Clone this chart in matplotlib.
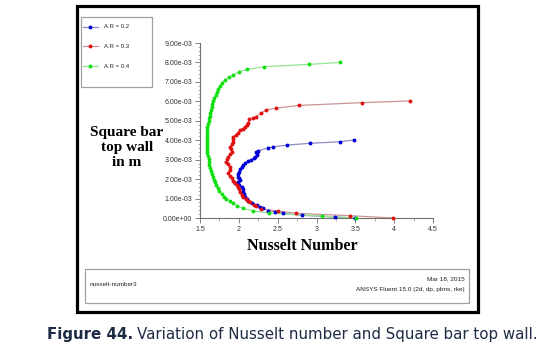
import matplotlib
matplotlib.use("Agg")
import matplotlib.pyplot as plt
from matplotlib.patches import Rectangle
from matplotlib.ticker import MultipleLocator, FuncFormatter

# ---- data (Nusselt number vs. wall position, y in units of 1e-3 m) ----
ar02_x = [3.49, 3.24, 2.81, 2.57, 2.46, 2.38, 2.31, 2.27, 2.23, 2.17, 2.12, 2.10, 2.08, 2.07,
          2.06, 2.05, 2.04, 2.00, 1.95, 1.99, 2.01, 2.00, 1.99, 1.99, 2.005, 2.02, 2.04, 2.06,
          2.08, 2.12, 2.16, 2.19, 2.21, 2.23, 2.24, 2.22, 2.25, 2.38, 2.44, 2.62, 2.91, 3.30, 3.48]
ar02_y = [0.00, 0.05, 0.14, 0.24, 0.33, 0.38, 0.50, 0.58, 0.67, 0.78, 0.89, 0.98, 1.09, 1.22,
          1.35, 1.48, 1.61, 1.68, 1.78, 1.85, 1.95, 2.05, 2.12, 2.25, 2.38, 2.50, 2.64, 2.72,
          2.81, 2.93, 3.00, 3.07, 3.15, 3.24, 3.32, 3.41, 3.46, 3.61, 3.66, 3.75, 3.84, 3.92, 4.01]

ar03_x = [3.98, 3.43, 2.74, 2.51, 2.29, 2.22, 2.19, 2.15, 2.12, 2.09, 2.06, 2.04, 2.01, 2.00,
          1.99, 1.97, 1.95, 1.92, 1.91, 1.88, 1.86, 1.88, 1.89, 1.86, 1.84, 1.85, 1.86, 1.89,
          1.91, 1.90, 1.89, 1.91, 1.93, 1.92, 1.93, 1.96, 1.99, 2.01, 2.05, 2.08, 2.10, 2.12,
          2.13, 2.18, 2.22, 2.29, 2.35, 2.48, 2.77, 3.58, 4.20]
ar03_y = [0.00, 0.12, 0.24, 0.36, 0.46, 0.60, 0.67, 0.80, 0.89, 1.00, 1.09, 1.20, 1.35, 1.48,
          1.61, 1.70, 1.78, 1.90, 2.04, 2.15, 2.30, 2.45, 2.64, 2.76, 2.89, 3.02, 3.15, 3.28,
          3.41, 3.54, 3.66, 3.80, 3.92, 4.05, 4.18, 4.28, 4.35, 4.52, 4.60, 4.69, 4.80, 4.90,
          5.07, 5.15, 5.21, 5.41, 5.55, 5.65, 5.79, 5.93, 6.02]

ar04_x = [3.51, 3.07, 2.39, 2.18, 2.05, 1.98, 1.92, 1.886, 1.84, 1.81, 1.78, 1.75, 1.73, 1.71,
          1.69, 1.68, 1.665, 1.65, 1.64, 1.63, 1.62, 1.615, 1.61, 1.60, 1.595, 1.59, 1.588,
          1.586, 1.585, 1.585, 1.586, 1.588, 1.59, 1.595, 1.60, 1.61, 1.615, 1.625, 1.632,
          1.64, 1.65, 1.66, 1.67, 1.685, 1.70, 1.715, 1.735, 1.755, 1.78, 1.82, 1.87, 1.93,
          2.005, 2.11, 2.33, 2.90, 3.30]
ar04_y = [0.00, 0.10, 0.25, 0.37, 0.50, 0.62, 0.75, 0.87, 0.98, 1.10, 1.25, 1.40, 1.55, 1.70,
          1.85, 1.98, 2.12, 2.27, 2.42, 2.57, 2.72, 2.87, 3.02, 3.17, 3.32, 3.47, 3.62,
          3.77, 3.92, 4.07, 4.22, 4.37, 4.52, 4.67, 4.82, 4.97, 5.12, 5.27, 5.42,
          5.57, 5.72, 5.87, 6.02, 6.17, 6.32, 6.47, 6.62, 6.78, 6.95, 7.09, 7.23, 7.37,
          7.52, 7.64, 7.78, 7.90, 8.00]

series = [
    ("A.R = 0.2", ar02_x, ar02_y, "#0000d8", "#8c8cc8"),
    ("A.R = 0.3", ar03_x, ar03_y, "#e01010", "#cc9494"),
    ("A.R = 0.4", ar04_x, ar04_y, "#10e010", "#94e494"),
]

x_ticks = [1.5, 2, 2.5, 3, 3.5, 4, 4.5]
y_ticks = [0, 1, 2, 3, 4, 5, 6, 7, 8, 9]

W, H = 552, 351
fig = plt.figure(figsize=(W / 100, H / 100), dpi=100)
fig.patch.set_facecolor("white")

def fx(px):
    return px / W

def fy(py):
    return 1 - py / H

# outer black frame
fig.patches.append(Rectangle((fx(77), fy(312)), (478 - 77) / W, (312 - 6) / H,
                             transform=fig.transFigure, fill=False, ec="black", lw=2.3))
# footer box
fig.patches.append(Rectangle((fx(85), fy(303)), (469 - 85) / W, (303 - 269) / H,
                             transform=fig.transFigure, fill=False, ec="#a0a0a0", lw=0.9))
# legend box
fig.patches.append(Rectangle((fx(81), fy(87)), (152 - 81) / W, (87 - 17) / H,
                             transform=fig.transFigure, fill=False, ec="#a0a0a0", lw=0.9))

ax = fig.add_axes([fx(200), fy(218), (433 - 200) / W, (218 - 43) / H])
for name, xs, ys, mc, lc in series:
    yv = [v * 1e-3 for v in ys]
    ax.plot(xs, yv, color=lc, lw=0.9, zorder=2, clip_on=False)
    ax.plot(xs, yv, ls="none", marker="o", ms=1.8, mfc=mc, mec=mc, zorder=3, clip_on=False)

ax.set_xlim(1.5, 4.5)
ax.set_ylim(0, 9e-3)
ax.set_xticks(x_ticks)
ax.set_xticklabels([("%g" % v) for v in x_ticks])
ax.set_yticks([v * 1e-3 for v in y_ticks])
ax.yaxis.set_major_formatter(FuncFormatter(lambda v, p: "%.2e" % v))
ax.xaxis.set_minor_locator(MultipleLocator(0.25))
ax.yaxis.set_minor_locator(MultipleLocator(0.2e-3))
for s in ["top", "right"]:
    ax.spines[s].set_visible(False)
for s in ["left", "bottom"]:
    ax.spines[s].set_color("#707070")
    ax.spines[s].set_linewidth(0.8)
ax.tick_params(which="major", length=3.5, width=0.6, color="#707070",
               labelsize=5, labelcolor="#333333", pad=2)
ax.tick_params(which="minor", length=1.8, width=0.5, color="#909090")
for lab in ax.get_xticklabels() + ax.get_yticklabels():
    lab.set_family("Liberation Sans")
ax.patch.set_alpha(0)

# legend entries
leg_y = [27, 46, 66]
for (name, xs, ys, mc, lc), py in zip(series, leg_y):
    fig.add_artist(plt.Line2D([fx(83), fx(98)], [fy(py), fy(py)], color=lc, lw=0.9,
                              transform=fig.transFigure))
    fig.add_artist(plt.Line2D([fx(90)], [fy(py)], marker="o", ms=1.8, mfc=mc, mec=mc,
                              transform=fig.transFigure))
    fig.text(fx(104), fy(py), name, fontsize=4.3, family="Liberation Sans",
             va="center", ha="left", color="#222222")

# axis titles
fig.text(fx(127), fy(147), "Square bar\ntop wall\nin m", fontsize=11, fontweight="bold",
         family="Liberation Serif", ha="center", va="center", linespacing=1.2)
fig.text(fx(302), fy(246), "Nusselt Number", fontsize=11.5, fontweight="bold",
         family="Liberation Serif", ha="center", va="center")

# footer text
fig.text(fx(90), fy(284), "nusselt-number3", fontsize=4.6, family="Liberation Sans",
         ha="left", va="center", color="#222222")
fig.text(fx(465), fy(279), "Mar 18, 2015", fontsize=4.6, family="Liberation Sans",
         ha="right", va="center", color="#222222")
fig.text(fx(465), fy(290), "ANSYS Fluent 15.0 (2d, dp, pbns, rke)", fontsize=4.6,
         family="Liberation Sans", ha="right", va="center", color="#222222")

# caption
cap_color = "#1e2b45"
t1 = fig.text(fx(47), fy(335), "Figure 44.", fontsize=10.8, fontweight="bold",
              family="DejaVu Sans", ha="left", va="center", color=cap_color)
fig.canvas.draw()
bb = t1.get_window_extent(renderer=fig.canvas.get_renderer())
fig.text(bb.x1 / W + 4 / W, fy(335), "Variation of Nusselt number and Square bar top wall.",
         fontsize=10.8, family="DejaVu Sans", ha="left", va="center", color=cap_color)

fig.savefig("out.png", dpi=100)
